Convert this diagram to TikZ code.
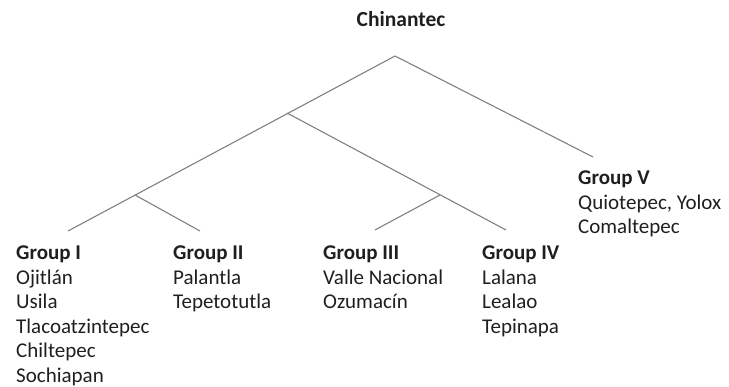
\documentclass[tikz,border=0pt]{standalone}
\usepackage{fontspec}
\setmainfont{Carlito}
\newcommand{\grplines}[1]{\begin{tabular}[t]{@{}l@{}}#1\end{tabular}}
\begin{document}
\begin{tikzpicture}[x=1pt,y=-1pt,
  branch/.style={draw=black!50,line width=1.1pt},
  grp/.style={anchor=base west,inner sep=0pt,text=black!88,
    font=\fontsize{21}{24.5}\selectfont},
  title/.style={anchor=base,inner sep=0pt,text=black!88,
    font=\fontsize{21.5}{24}\selectfont\bfseries}]
\useasboundingbox (0,0) rectangle (729,387);
\coordinate (A) at (395,56);
\coordinate (J1) at (287,113);
\coordinate (J2) at (135,195);
\coordinate (J3) at (440,195);
\coordinate (E1) at (68,231);
\coordinate (E2) at (200,231);
\coordinate (E3) at (375,230);
\coordinate (E4) at (506,230);
\coordinate (E5) at (593,157);
\node[title] (root) at (401,27) {Chinantec};
\draw[branch] (E1) -- (A) -- (E5);
\draw[branch] (J1) -- (E4);
\draw[branch] (J2) -- (E2);
\draw[branch] (J3) -- (E3);
\node[grp] (g1) at (16,260) {\grplines{\textbf{Group I}\\Ojitlán\\Usila\\Tlacoatzintepec\\Chiltepec\\Sochiapan}};
\node[grp] (g2) at (173,260) {\grplines{\textbf{Group II}\\Palantla\\Tepetotutla}};
\node[grp] (g3) at (323,260) {\grplines{\textbf{Group III}\\Valle Nacional\\Ozumacín}};
\node[grp] (g4) at (482,260) {\grplines{\textbf{Group IV}\\Lalana\\Lealao\\Tepinapa}};
\node[grp] (g5) at (578,185) {\grplines{\textbf{Group V}\\Quiotepec, Yolox\\Comaltepec}};
\end{tikzpicture}
\end{document}
